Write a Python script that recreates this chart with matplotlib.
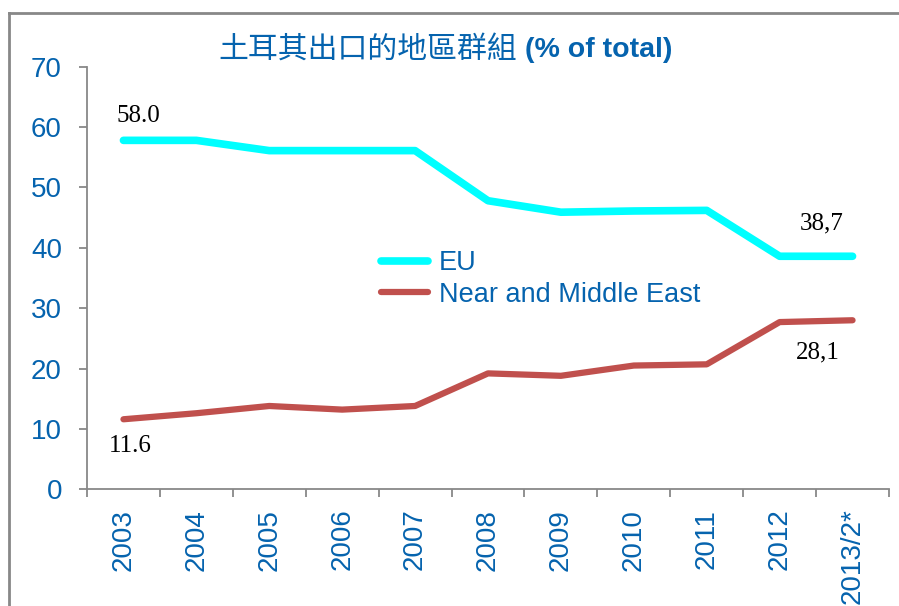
import matplotlib
matplotlib.use("Agg")
import matplotlib.pyplot as plt
from matplotlib.lines import Line2D
import numpy as np

categories = ["2003", "2004", "2005", "2006", "2007", "2008", "2009",
              "2010", "2011", "2012", "2013/2*"]
eu = [57.8, 57.8, 56.1, 56.1, 56.1, 47.8, 45.9, 46.1, 46.2, 38.6, 38.6]
near_middle_east = [11.6, 12.6, 13.8, 13.2, 13.8, 19.2, 18.8, 20.5, 20.7, 27.7, 28.0]
y_ticks = [0, 10, 20, 30, 40, 50, 60, 70]
annotations = [("58.0", 0, eu[0], 0.2, 4.0),
               ("11.6", 0, near_middle_east[0], 0.1, -4.5),
               ("38,7", 10, eu[10], -0.43, 5.4),
               ("28,1", 10, near_middle_east[10], -0.48, -5.4)]

BLUE = "#0563AE"
GRAY = "#888888"

fig = plt.figure(figsize=(8.99, 6.06), dpi=100)
W, H = 899, 606
ax = fig.add_axes([87 / W, 1 - 489.3 / H, (889 - 87) / W, (489.3 - 66.7) / H])

x = np.arange(len(categories))
ax.plot(x, eu, color="#00FFFF", lw=5.5, solid_capstyle="round",
        solid_joinstyle="round", label="EU")
ax.plot(x, near_middle_east, color="#C0504D", lw=4.5, solid_capstyle="round",
        solid_joinstyle="round", label="Near and Middle East")

ax.set_xlim(-0.5, len(categories) - 0.5)
ax.set_ylim(0, 70)
ax.set_yticks(y_ticks)
ax.set_yticklabels([str(v) for v in y_ticks], fontsize=20, color=BLUE,
                   family="Liberation Sans")
ax.set_xticks(x)
ax.set_xticklabels(categories, rotation=90, fontsize=20, color=BLUE,
                   family="Liberation Sans")
ax.set_xticks(np.arange(len(categories) + 1) - 0.5, minor=True)
ax.tick_params(axis="x", which="major", length=0, pad=14)
ax.tick_params(axis="x", which="minor", length=6, width=1.3, color=GRAY)
ax.tick_params(axis="y", which="major", length=6, width=1.3, color=GRAY, pad=12)

for s in ["top", "right"]:
    ax.spines[s].set_visible(False)
for s in ["left", "bottom"]:
    ax.spines[s].set_color(GRAY)
    ax.spines[s].set_linewidth(1.3)

for txt, xi, yi, dx, dy in annotations:
    ax.text(xi + dx, yi + dy, txt, ha="center", va="center", fontsize=18,
            family="Liberation Serif", color="black")

leg = fig.legend(loc="upper left", bbox_to_anchor=(381 / W, 1 - 250 / H),
                 frameon=False, handlelength=1.75,
                 handletextpad=0.4, labelspacing=0.22, borderpad=0,
                 borderaxespad=0, prop={"family": "Liberation Sans", "size": 19.5})
for t in leg.get_texts():
    t.set_color(BLUE)

# title
fig.text(517 / W, 1 - 58 / H, "土耳其出口的地區群組", ha="right", va="baseline",
         fontsize=21.5, color=BLUE, family=["Noto Sans CJK TC", "DejaVu Sans"])
fig.text(525 / W, 1 - 57 / H, "(% of total)", ha="left", va="baseline",
         fontsize=20.5, color=BLUE, family="Liberation Sans", fontweight="bold")

# outer frame
fig.add_artist(Line2D([8.5 / W, 8.5 / W], [1 - 13 / H, 0], color=GRAY, lw=2,
                      transform=fig.transFigure))
fig.add_artist(Line2D([8.5 / W, 1], [1 - 13 / H, 1 - 13 / H], color=GRAY, lw=2,
                      transform=fig.transFigure))

fig.savefig("out.png", dpi=100)
